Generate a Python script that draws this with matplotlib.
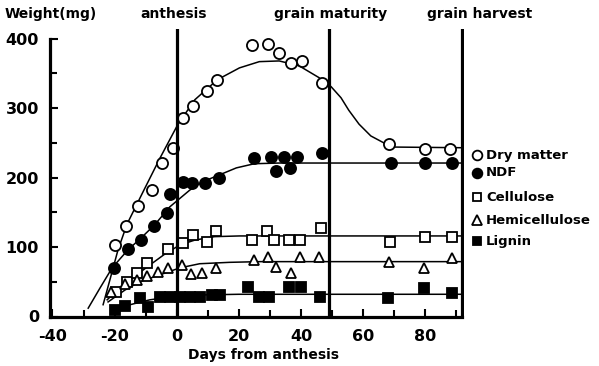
import matplotlib
matplotlib.use("Agg")
from matplotlib import pyplot as plt

plt.rcParams["font.family"] = ["DejaVu Sans"]
plt.rcParams["font.weight"] = "bold"

# Measured points (day from anthesis, weight in mg)
dry_days = [-19.9, -16.3, -12.5, -8.0, -4.8, -1.3, 1.9, 5.1, 9.6, 13.1, 24.4, 29.5, 33.0, 36.9, 40.4, 46.8, 68.3, 80.1, 88.1]
dry_vals = [103, 130, 159, 182, 221, 243, 286, 303, 325, 341, 391, 393, 380, 365, 368, 336, 248, 241, 241]

ndf_days = [-20.2, -15.7, -11.5, -7.4, -3.2, -2.2, 1.9, 4.8, 9.0, 13.5, 25.0, 30.4, 32.1, 34.6, 36.5, 38.8, 46.8, 68.9, 80.1, 88.5]
ndf_vals = [70, 97, 110, 130, 149, 176, 194, 192, 192, 200, 228, 230, 209, 230, 214, 230, 235, 221, 221, 221]

cel_days = [-19.5, -16.0, -12.8, -9.6, -2.9, 1.9, 5.1, 9.6, 12.8, 24.4, 29.2, 31.4, 36.2, 39.7, 46.5, 68.6, 80.1, 88.5]
cel_vals = [35, 50, 63, 77, 97, 106, 117, 107, 123, 110, 123, 110, 110, 110, 127, 107, 115, 115]

hem_days = [-21.0, -16.7, -12.8, -9.6, -6.1, -2.9, 1.6, 4.5, 8.3, 12.8, 25.0, 29.5, 32.1, 36.9, 39.7, 45.8, 68.3, 79.5, 88.5]
hem_vals = [35, 47, 53, 58, 64, 70, 74, 61, 63, 70, 81, 86, 71, 63, 86, 86, 79, 70, 84]

lig_days = [-19.9, -16.7, -11.9, -9.3, -5.4, -2.2, 1.0, 4.2, 7.4, 11.5, 13.8, 22.8, 26.6, 29.8, 36.2, 40.1, 46.2, 68.0, 79.5, 88.5]
lig_vals = [9, 15, 27, 14, 28, 28, 28, 28, 28, 31, 31, 42, 28, 28, 42, 42, 28, 27, 41, 34]

# Fitted curves
dry_fit_x = [-23.7, -21.5, -18.9, -16.0, -10.9, -5.4, 0.3, 5.8, 13.1, 20.2, 26.6, 33.0, 39.4, 45.8, 49.7, 52.9, 55.4, 58.7, 62.5, 66.7, 69.9, 92.5]
dry_fit_y = [17, 53, 96, 133, 179, 228, 276, 312, 341, 358, 367, 368, 361, 344, 331, 315, 297, 277, 260, 250, 244, 243]

ndf_fit_x = [-28.5, -24.7, -20.8, -15.7, -11.5, -7.1, -2.2, 4.2, 8.3, 13.8, 19.2, 25.0, 33.0, 92.5]
ndf_fit_y = [12, 41, 70, 96, 113, 132, 158, 182, 194, 204, 214, 220, 221, 221]

cel_fit_x = [-22.4, -18.3, -13.5, -8.7, -3.8, 1.0, 5.8, 12.2, 20.2, 92.5]
cel_fit_y = [24, 42, 58, 74, 90, 103, 110, 115, 116, 116]

hem_fit_x = [-22.1, -16.7, -11.9, -5.4, 1.0, 7.4, 17.0, 26.6, 92.5]
hem_fit_y = [21, 38, 50, 60, 70, 76, 78, 79, 79]

lig_fit_x = [-20.8, -15.0, -8.7, -2.2, 7.4, 20.0, 92.5]
lig_fit_y = [9, 17, 24, 28, 31, 32, 32]

stages = ["anthesis", "grain maturity", "grain harvest"]
stage_days = [0, 49, 92]

legend_labels = ["Dry matter", "NDF", "Cellulose", "Hemicellulose", "Lignin"]

fig = plt.figure(figsize=(5.99, 3.66), dpi=100)
ax = fig.add_axes([50 / 599, 1 - 316.5 / 366, 414 / 599, 287.5 / 366])
ax.set_xlim(-40.8, 92.5)
ax.set_ylim(0, 414)

# curves
for fx, fy in [(dry_fit_x, dry_fit_y), (ndf_fit_x, ndf_fit_y), (cel_fit_x, cel_fit_y),
               (hem_fit_x, hem_fit_y), (lig_fit_x, lig_fit_y)]:
    ax.plot(fx, fy, color="black", lw=1.1, zorder=2)

# data points
ms = 8
styles = [
    (dry_days, dry_vals, "o", "white", ms),
    (ndf_days, ndf_vals, "o", "black", ms),
    (cel_days, cel_vals, "s", "white", ms - 1),
    (hem_days, hem_vals, "^", "white", ms - 0.5),
    (lig_days, lig_vals, "s", "black", ms - 1),
]
for xs, ys, m, fc, s in styles:
    ax.plot(xs, ys, ls="none", marker=m, mfc=fc, mec="black", mew=1.3, ms=s, zorder=3)

# stage lines and labels
for d in stage_days:
    ax.axvline(d, color="black", lw=2.3, zorder=4)
label_x = [174, 331, 480]
for px, name in zip(label_x, stages):
    fig.text(px / 599, 1 - 14 / 366, name, ha="center", va="center", fontsize=10)
fig.text(5 / 599, 1 - 14 / 366, "Weight(mg)", ha="left", va="center", fontsize=10)

# legend drawn by hand
leg_y = [155, 173, 197, 220, 241]
for (xs, ys, m, fc, s), py, lab in zip(styles, leg_y, legend_labels):
    fig.lines.append(plt.Line2D([477 / 599], [1 - py / 366], transform=fig.transFigure,
                                ls="none", marker=m, mfc=fc, mec="black", mew=1.3, ms=s - 1))
    fig.text(486 / 599, 1 - py / 366, lab, ha="left", va="center", fontsize=9.5)

# axes styling
for side in ["top", "right"]:
    ax.spines[side].set_visible(False)
ax.spines["left"].set_linewidth(2.3)
ax.spines["bottom"].set_linewidth(2.3)
ax.spines["left"].set_bounds(0, 400)
ax.spines["bottom"].set_bounds(-40.8, 92)

ax.set_yticks([0, 100, 200, 300, 400])
ax.set_yticks([50, 150, 250, 350], minor=True)
ax.set_xticks([-40, -20, 0, 20, 40, 60, 80])
ax.set_xticklabels(["-40", "-20", "0", "20", "40", "60", "80"])
ax.set_xticks([-30, -10, 10, 30, 50, 70, 90], minor=True)
ax.tick_params(axis="both", which="both", direction="in", width=1.5, labelsize=11.5)
ax.tick_params(axis="both", which="major", length=6)
ax.tick_params(axis="both", which="minor", length=5)
ax.tick_params(axis="y", pad=8)
ax.tick_params(axis="x", pad=9)

fig.text(264 / 599, 1 - 355 / 366, "Days from anthesis", ha="center", va="center", fontsize=10)

fig.savefig("out.png", dpi=100)
